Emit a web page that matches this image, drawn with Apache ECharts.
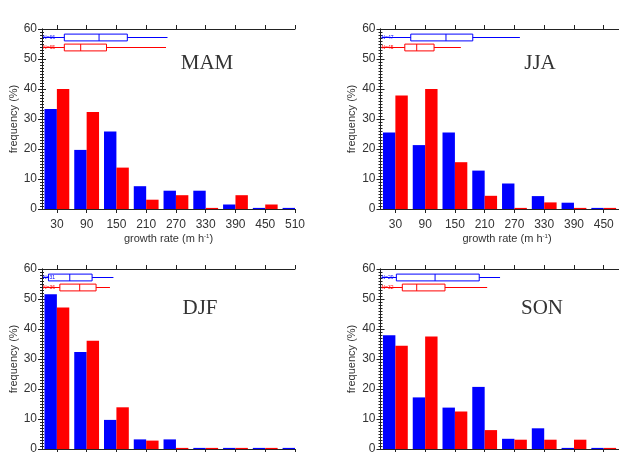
<!DOCTYPE html>
<html>
<head>
<meta charset="utf-8">
<script src="https://cdn.jsdelivr.net/npm/echarts@6/dist/echarts.min.js"></script>
<style>
html, body { margin: 0; padding: 0; background: #fff; }
#chart { width: 619px; height: 452px; }
</style>
</head>
<body>
<div id="chart"></div>
<script>
// bin centres (growth rate, m h-1) and tick labels
const binCenters = [30, 90, 150, 210, 270, 330, 390, 450, 510]
const xTicks = [30, 90, 150, 210, 270, 330, 390, 450, 510]
const seasons = ['MAM', 'JJA', 'DJF', 'SON']

// frequency (%) per bin
const mamBlue = [33.3, 19.7, 25.8, 7.6, 6.1, 6.1, 1.5, 0, 0]
const mamRed = [40.0, 32.3, 13.8, 3.1, 4.6, 0, 4.6, 1.5, 0]
const jjaBlue = [25.5, 21.3, 25.5, 12.8, 8.5, 4.3, 2.1, 0, 0]
const jjaRed = [37.8, 40.0, 15.6, 4.4, 0, 2.2, 0, 0, 0]
const djfBlue = [51.6, 32.3, 9.7, 3.2, 3.2, 0, 0, 0, 0]
const djfRed = [47.2, 36.1, 13.9, 2.8, 0, 0, 0, 0, 0]
const sonBlue = [37.9, 17.2, 13.8, 20.7, 3.4, 6.9, 0, 0, 0]
const sonRed = [34.4, 37.5, 12.5, 6.3, 3.1, 3.1, 3.1, 0, 0]

// box plots: [low whisker, q1, median, q3, high whisker]
const mamBlueBox = [2, 45, 115, 172, 253]
const mamRedBox = [2, 45, 78, 130, 250]
const jjaBlueBox = [2, 61, 132, 186, 281]
const jjaRedBox = [2, 49, 73, 108, 162]
const djfBlueBox = [2, 13, 56, 101, 144]
const djfRedBox = [2, 36, 76, 109, 137]
const sonBlueBox = [2, 32, 110, 199, 241]
const sonRedBox = [2, 44, 73, 130, 215]

// sample sizes
const blueN = ['N=66', 'N=47', 'N=31', 'N=29']
const redN = ['N=65', 'N=45', 'N=36', 'N=32']

const blueData = [mamBlue, jjaBlue, djfBlue, sonBlue]
const redData = [mamRed, jjaRed, djfRed, sonRed]
const blueBoxes = [mamBlueBox, jjaBlueBox, djfBlueBox, sonBlueBox]
const redBoxes = [mamRedBox, jjaRedBox, djfRedBox, sonRedBox]

const BLUE = '#0000ff'
const RED = '#ff0000'
const FRAME = '#222'
const BAR_W = 25
const BOX_HALF = 3.4
const BLUE_LEVEL = 57.2
const RED_LEVEL = 54.1

const panels = [
  { left: 42, top: 29, label: [207, 63] },
  { left: 380.5, top: 29, label: [540, 63] },
  { left: 42, top: 269, label: [200, 308] },
  { left: 380.5, top: 269, label: [542, 308] }
]

function barRenderer (side, color) {
  return function (params, api) {
    const c = api.value(0)
    const h = api.value(1)
    const x0 = side < 0 ? c - BAR_W : c
    const p0 = api.coord([x0, h])
    const p1 = api.coord([x0 + BAR_W, 0])
    const cs = params.coordSys
    if (h === 0) {
      // empty bins show as a flat line on the axis
      const xa = Math.max(p0[0], cs.x)
      const xb = Math.min(p1[0], cs.x + cs.width)
      if (xb <= xa) return
      return {
        type: 'line',
        shape: { x1: xa, y1: p1[1] - 0.5, x2: xb, y2: p1[1] - 0.5 },
        style: { stroke: color, lineWidth: 1.2 }
      }
    }
    const rect = echarts.graphic.clipRectByRect({
      x: p0[0], y: p0[1], width: p1[0] - p0[0], height: p1[1] - p0[1]
    }, { x: cs.x, y: cs.y, width: cs.width, height: cs.height })
    if (!rect) return
    return { type: 'rect', shape: rect, style: { fill: color } }
  }
}

function boxRenderer (level, color, nText) {
  return function (params, api) {
    const yc = Math.round(api.coord([0, level])[1]) + 0.5
    const xs = [0, 1, 2, 3, 4].map(i => api.coord([api.value(i), level])[0])
    const st = { stroke: color, lineWidth: 1, fill: null }
    return {
      type: 'group',
      children: [
        { type: 'line', shape: { x1: xs[0], y1: yc, x2: xs[1], y2: yc }, style: st },
        { type: 'rect', shape: { x: xs[1], y: yc - BOX_HALF, width: xs[3] - xs[1], height: 2 * BOX_HALF }, style: { stroke: color, lineWidth: 1, fill: 'rgba(0,0,0,0)' } },
        { type: 'line', shape: { x1: xs[2], y1: yc - BOX_HALF, x2: xs[2], y2: yc + BOX_HALF }, style: st },
        { type: 'line', shape: { x1: xs[3], y1: yc, x2: xs[4], y2: yc }, style: st },
        { type: 'text', style: { text: nText, x: params.coordSys.x + 1, y: yc, fontSize: 5, fill: color, align: 'left', verticalAlign: 'middle' } }
      ]
    }
  }
}

const grid = []
const xAxis = []
const yAxis = []
const series = []
const graphic = []

panels.forEach((p, g) => {
  grid.push({ left: p.left, top: p.top, width: 253, height: 180, containLabel: false, outerBoundsMode: 'none' })
  xAxis.push({
    type: 'value', gridIndex: g, min: 0, max: 510, position: 'bottom',
    axisLine: { show: true, onZero: false, lineStyle: { color: FRAME } },
    axisTick: { show: true, customValues: xTicks, length: 4, lineStyle: { color: FRAME } },
    axisLabel: { customValues: xTicks, fontSize: 12, color: '#333', margin: 10, fontFamily: 'Liberation Sans' },
    splitLine: { show: false },
    name: 'growth rate (m h{sup|-1})',
    nameLocation: 'middle',
    nameGap: 24,
    nameTextStyle: {
      fontSize: 11, color: '#333', fontFamily: 'Liberation Sans',
      rich: { sup: { fontSize: 6, verticalAlign: 'top', color: '#333' } }
    }
  })
  xAxis.push({
    type: 'value', gridIndex: g, min: 0, max: 510, position: 'top',
    axisLine: { show: true, onZero: false, lineStyle: { color: FRAME } },
    axisTick: { show: true, customValues: xTicks, length: 4, lineStyle: { color: FRAME } },
    axisLabel: { show: false },
    splitLine: { show: false }
  })
  yAxis.push({
    type: 'value', gridIndex: g, min: 0, max: 60, interval: 10, position: 'left',
    axisLine: { show: true, lineStyle: { color: FRAME } },
    axisTick: { show: true, inside: true, length: 4, lineStyle: { color: FRAME } },
    minorTick: { show: true, splitNumber: 10, length: 2, lineStyle: { color: FRAME } },
    axisLabel: { fontSize: 12, color: '#333', margin: 5, fontFamily: 'Liberation Sans' },
    splitLine: { show: false },
    name: 'frequency (%)',
    nameLocation: 'middle',
    nameGap: 23,
    nameTextStyle: { fontSize: 11, color: '#333', fontFamily: 'Liberation Sans' }
  })
  yAxis.push({
    type: 'value', gridIndex: g, min: 0, max: 60, interval: 10, position: 'right',
    axisLine: { show: true, lineStyle: { color: FRAME } },
    axisTick: { show: true, inside: true, length: 4, lineStyle: { color: FRAME } },
    minorTick: { show: true, splitNumber: 10, length: 2, lineStyle: { color: FRAME } },
    axisLabel: { show: false },
    splitLine: { show: false }
  })

  const xi = 2 * g
  const yi = 2 * g
  series.push({
    type: 'custom', name: seasons[g] + ' blue', xAxisIndex: xi, yAxisIndex: yi,
    renderItem: barRenderer(-1, BLUE),
    data: binCenters.map((c, i) => [c, blueData[g][i]])
  })
  series.push({
    type: 'custom', name: seasons[g] + ' red', xAxisIndex: xi, yAxisIndex: yi,
    renderItem: barRenderer(1, RED),
    data: binCenters.map((c, i) => [c, redData[g][i]])
  })
  series.push({
    type: 'custom', name: seasons[g] + ' blue box', xAxisIndex: xi, yAxisIndex: yi, z: 5,
    renderItem: boxRenderer(BLUE_LEVEL, BLUE, blueN[g]),
    data: [blueBoxes[g]]
  })
  series.push({
    type: 'custom', name: seasons[g] + ' red box', xAxisIndex: xi, yAxisIndex: yi, z: 5,
    renderItem: boxRenderer(RED_LEVEL, RED, redN[g]),
    data: [redBoxes[g]]
  })

  graphic.push({
    type: 'text', x: p.label[0], y: p.label[1], z: 10,
    style: { text: seasons[g], font: '21px "Liberation Serif"', fill: '#333', align: 'center', verticalAlign: 'middle' }
  })
})

const chart = echarts.init(document.getElementById('chart'), null, { renderer: 'canvas' })
chart.setOption({
  animation: false,
  backgroundColor: '#fff',
  grid: grid,
  xAxis: xAxis,
  yAxis: yAxis,
  series: series,
  graphic: graphic
})
</script>
</body>
</html>
